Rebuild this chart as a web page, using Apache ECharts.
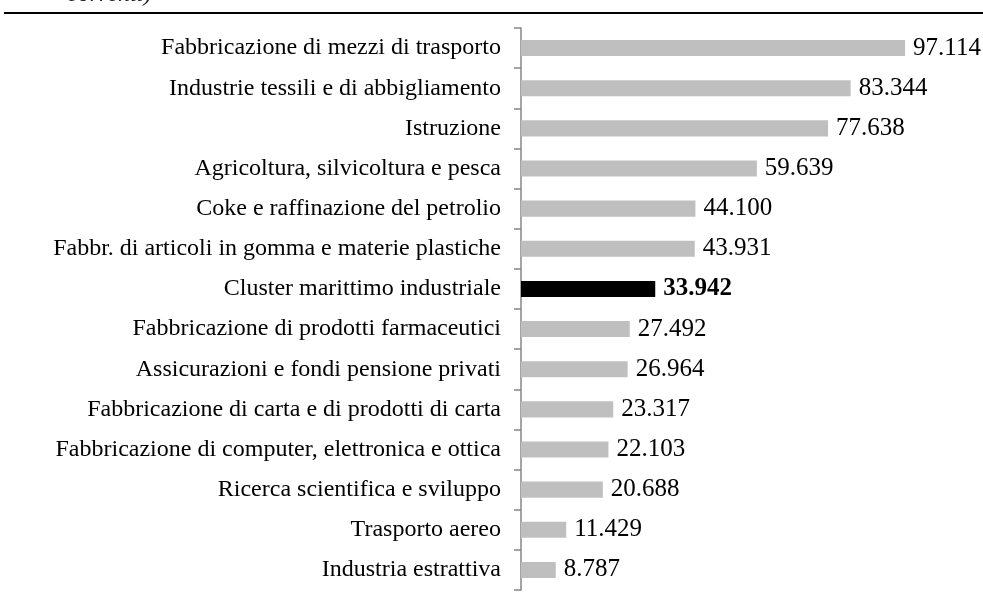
<!DOCTYPE html>
<html>
<head>
<meta charset="utf-8">
<script src="https://cdn.jsdelivr.net/npm/echarts@6/dist/echarts.min.js"></script>
<style>
    html, body { margin: 0; padding: 0; background: #fff; }
    #main { width: 983px; height: 601px; }
</style>
</head>
<body>
<div id="main"></div>
<script>
// 数据
let categories = [
    'Fabbricazione di mezzi di trasporto',
    'Industrie tessili e di abbigliamento',
    'Istruzione',
    'Agricoltura, silvicoltura e pesca',
    'Coke e raffinazione del petrolio',
    'Fabbr. di articoli in gomma e materie plastiche',
    'Cluster marittimo industriale',
    'Fabbricazione di prodotti farmaceutici',
    'Assicurazioni e fondi pensione privati',
    'Fabbricazione di carta e di prodotti di carta',
    'Fabbricazione di computer, elettronica e ottica',
    'Ricerca scientifica e sviluppo',
    'Trasporto aereo',
    'Industria estrattiva'
];
let values = [97.114, 83.344, 77.638, 59.639, 44.100, 43.931, 33.942, 27.492, 26.964, 23.317, 22.103, 20.688, 11.429, 8.787];
let highlight = 'Cluster marittimo industriale';

let font = '"Liberation Serif", "Times New Roman", serif';

// 每个柱子的样式
let barData = values.map((v, i) => {
    let hi = categories[i] === highlight;
    return {
        value: v,
        itemStyle: { color: hi ? '#000000' : '#bfbfbf' },
        label: { fontWeight: hi ? 'bold' : 'normal' }
    };
});

let chart = echarts.init(document.getElementById('main'));
let option = {
    animation: false,
    grid: { left: 521, top: 28, width: 395.5, height: 562 },
    xAxis: {
        type: 'value',
        min: 0,
        max: 100,
        show: false
    },
    yAxis: {
        type: 'category',
        data: categories,
        inverse: true,
        axisLine: { show: true, lineStyle: { color: '#868686', width: 1.5 } },
        axisTick: { show: true, alignWithLabel: false, length: 7, lineStyle: { color: '#868686', width: 1.5 } },
        axisLabel: { color: '#000', fontFamily: font, fontSize: 24, margin: 20 }
    },
    series: [{
        type: 'bar',
        data: barData,
        barCategoryGap: '60%',
        label: {
            show: true,
            position: 'right',
            distance: 8,
            color: '#000',
            fontFamily: font,
            fontSize: 25,
            formatter: (p) => p.value.toFixed(3)
        }
    }],
    graphic: [
        // 上方被截断的标题
        {
            type: 'text',
            left: 67,
            top: -17,
            style: { text: 'correnti)', fontFamily: font, fontStyle: 'italic', fontSize: 24, fill: '#222' }
        },
        // 标题下的横线
        {
            type: 'rect',
            shape: { x: 4, y: 12, width: 979, height: 2 },
            style: { fill: '#000' }
        }
    ]
};
chart.setOption(option);
</script>
</body>
</html>
